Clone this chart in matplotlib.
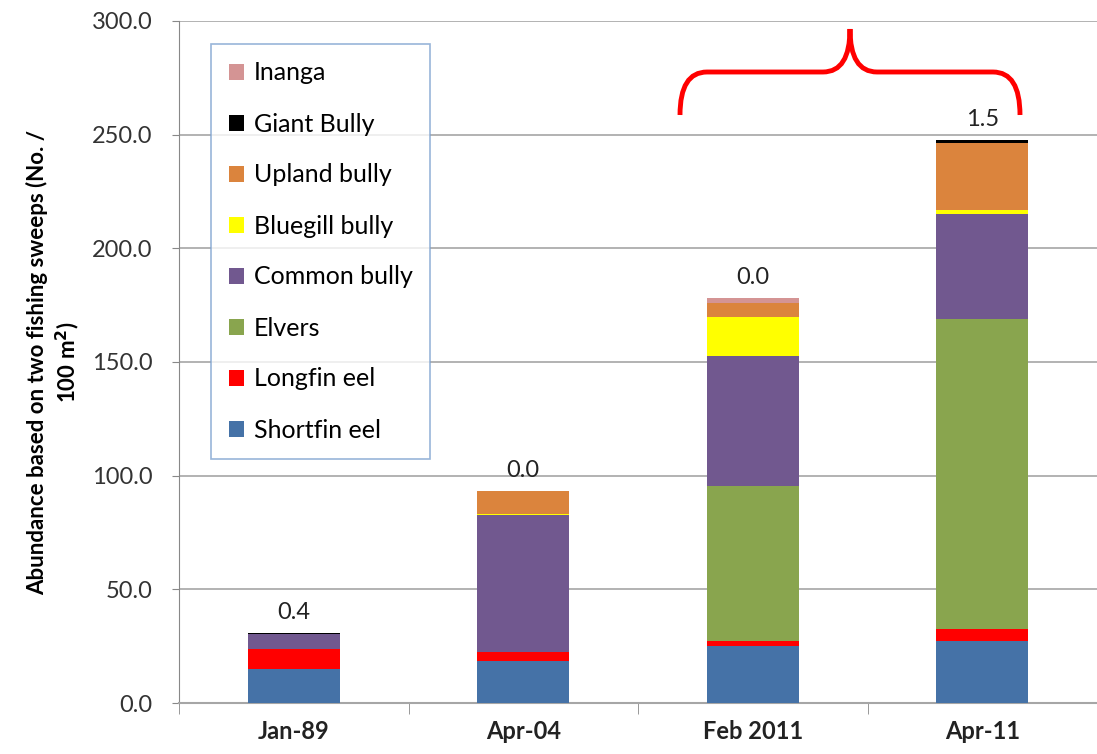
import numpy as np
import matplotlib.pyplot as plt
from matplotlib.path import Path
from matplotlib.patches import PathPatch, Patch

plt.rcParams['font.family'] = ['Lato', 'DejaVu Sans']

# data
dates = ['Jan-89', 'Apr-04', 'Feb 2011', 'Apr-11']
species = ['Shortfin eel', 'Longfin eel', 'Elvers', 'Common bully',
           'Bluegill bully', 'Upland bully', 'Giant Bully', 'Inanga']
shortfin = [15.0, 18.3, 25.1, 27.4]
longfin = [8.8, 4.3, 2.3, 5.0]
elvers = [0.0, 0.0, 68.1, 136.6]
common = [6.6, 60.1, 57.2, 46.1]
bluegill = [0.0, 0.4, 17.1, 1.8]
upland = [0.0, 10.3, 6.2, 29.3]
giant = [0.4, 0.0, 0.0, 1.5]
inanga = [0.0, 0.0, 2.2, 0.0]
colors = ['#4572A7', '#FF0000', '#89A54E', '#71588F',
          '#FFFF00', '#DB843D', '#000000', '#D49494']

series = [shortfin, longfin, elvers, common, bluegill, upland, giant, inanga]

W, H = 1097, 754
fig = plt.figure(figsize=(W / 100, H / 100), dpi=100)
ax = fig.add_axes([179 / W, 51 / H, (W - 179) / W, (703 - 21) / H])

x = np.arange(len(dates))
bottom = np.zeros(len(dates))
for vals, c, name in zip(series, colors, species):
    ax.bar(x, vals, 0.40, bottom=bottom, color=c, label=name, zorder=3)
    bottom += np.array(vals)

# labels above bars (giant bully values)
for xi, top, g in zip(x, bottom, giant):
    ax.annotate(f'{g:.1f}', (xi, top), xytext=(0, 7), textcoords='offset points',
                ha='center', va='bottom', fontsize=17, color='#222222')

ax.set_ylim(0, 300)
ax.set_xlim(-0.5, 3.47)
ax.set_yticks(np.arange(0, 301, 50))
ax.set_yticklabels([f'{v:.1f}' for v in np.arange(0, 301, 50)], fontsize=17, color='#333333')
ax.set_xticks(x)
ax.set_xticklabels(dates, fontsize=17, fontweight='bold', color='#222222')
ax.set_xticks(np.arange(-0.5, 3.6, 1), minor=True)
ax.tick_params(axis='x', which='major', length=0, pad=12)
ax.tick_params(axis='x', which='minor', length=8, color='#888888')
ax.tick_params(axis='y', length=5, color='#888888', pad=14)
ax.grid(axis='y', color='#A6A6A6', linewidth=1.2, zorder=0)
for s in ['top', 'right']:
    ax.spines[s].set_visible(False)
ax.spines['left'].set_color('#888888')
ax.spines['bottom'].set_color('#A6A6A6')
ax.spines['bottom'].set_linewidth(1.5)

fig.text(54 / W, 1 - 362 / H, 'Abundance based on two fishing sweeps (No. /\n100 m$^\\mathbf{2}$)',
         rotation=90, ha='center', va='center', fontsize=16, fontweight='bold',
         linespacing=1.25)

handles = [Patch(facecolor=c) for c in colors][::-1]
leg = ax.legend(handles, species[::-1], loc='upper left',
                bbox_to_anchor=(211 / W, 1 - 44 / H), bbox_transform=fig.transFigure,
                fontsize=18, frameon=True, fancybox=False, handlelength=0.6,
                handleheight=0.6, handletextpad=0.4, labelspacing=1.12,
                borderpad=0.7, borderaxespad=0)
leg.get_frame().set_edgecolor('#7FA3D0')
leg.get_frame().set_linewidth(1.2)

# red brace over the last two bars
pts = [(680, 115), (680, 72), (707, 72),
       (823, 72), (850, 72), (850, 29),
       (850, 72), (877, 72),
       (993, 72), (1020, 72), (1020, 115)]
codes = [Path.MOVETO, Path.CURVE3, Path.CURVE3,
         Path.LINETO, Path.CURVE3, Path.CURVE3,
         Path.CURVE3, Path.CURVE3,
         Path.LINETO, Path.CURVE3, Path.CURVE3]
pts = [(px / W, 1 - py / H) for px, py in pts]
fig.add_artist(PathPatch(Path(pts, codes), transform=fig.transFigure,
                         facecolor='none', edgecolor='#FF0000', linewidth=3.5))

fig.savefig('out.png', dpi=100)
